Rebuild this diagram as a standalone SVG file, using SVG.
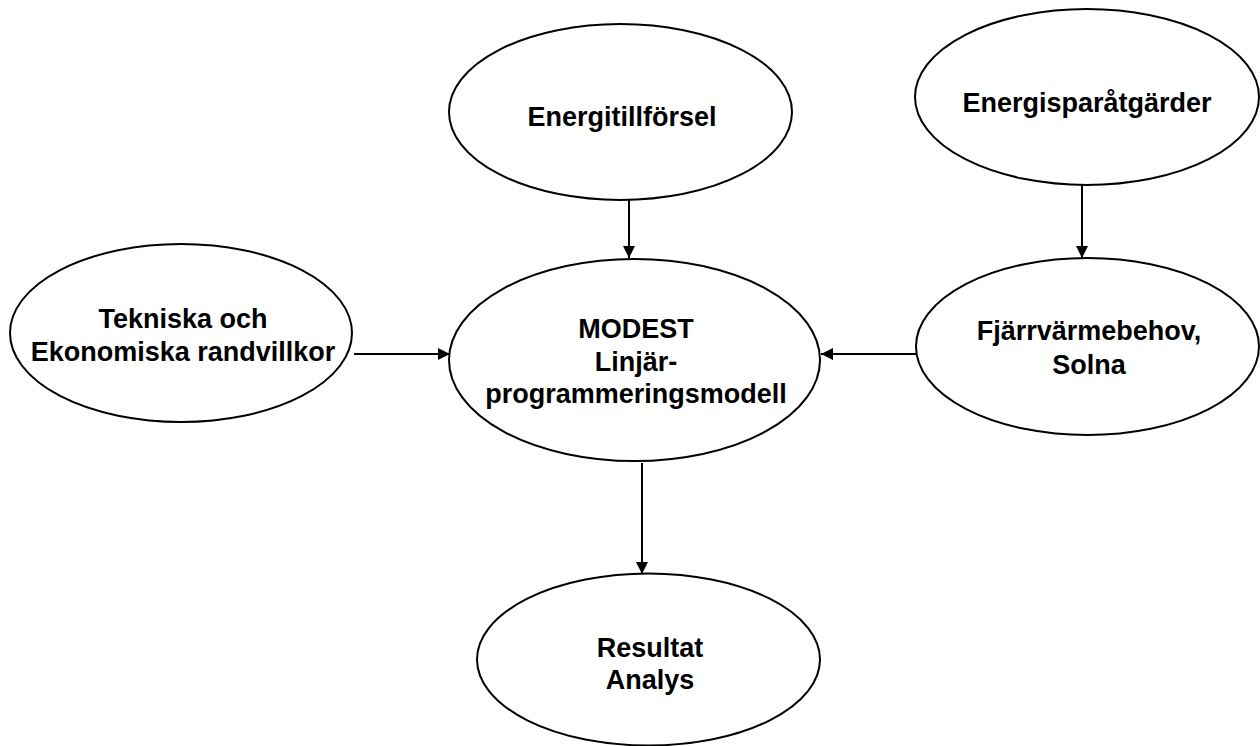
<svg xmlns="http://www.w3.org/2000/svg" width="1260" height="746" viewBox="0 0 1260 746">
<defs>
<marker id="arr" markerUnits="userSpaceOnUse" markerWidth="14" markerHeight="14" refX="12" refY="6" orient="auto">
<path d="M0,0 L12,6 L0,12 Z" fill="#000"/>
</marker>
<style>
.n{fill:#fff;stroke:#000;stroke-width:2}
.t{font-family:"Liberation Sans",Arial,sans-serif;font-weight:bold;font-size:27px;fill:#000;text-anchor:middle}
.c{stroke:#000;stroke-width:2;fill:none;marker-end:url(#arr)}
</style>
</defs>
<rect width="1260" height="746" fill="#fff"/>
<g id="connectors">
<path class="c" d="M629,200 L629,258"/>
<path class="c" d="M1082,185 L1082,258"/>
<path class="c" d="M354,354 L450,354"/>
<path class="c" d="M916,354 L821,354"/>
<path class="c" d="M642,463 L642,574"/>
</g>
<g id="energitillforsel">
<ellipse class="n" cx="620.5" cy="112" rx="171.5" ry="88"/>
<text class="t" x="622" y="126">Energitillförsel</text>
</g>
<g id="energisparatgarder">
<ellipse class="n" cx="1087" cy="97" rx="172" ry="88"/>
<text class="t" x="1087" y="112">Energisparåtgärder</text>
</g>
<g id="tekniska">
<ellipse class="n" cx="181" cy="333" rx="171" ry="89"/>
<text class="t" x="183" y="328">Tekniska och</text>
<text class="t" x="183" y="361">Ekonomiska randvillkor</text>
</g>
<g id="modest">
<ellipse class="n" cx="634.5" cy="360" rx="185.5" ry="101"/>
<text class="t" x="636" y="338">MODEST</text>
<text class="t" x="636" y="371">Linjär-</text>
<text class="t" x="636" y="403">programmeringsmodell</text>
</g>
<g id="fjarrvarme">
<ellipse class="n" cx="1087.5" cy="346.5" rx="171.5" ry="88.5"/>
<text class="t" x="1089" y="340">Fjärrvärmebehov,</text>
<text class="t" x="1089" y="374">Solna</text>
</g>
<g id="resultat">
<ellipse class="n" cx="648.5" cy="659.5" rx="171.5" ry="86"/>
<text class="t" x="650" y="657">Resultat</text>
<text class="t" x="650" y="689">Analys</text>
</g>
</svg>
